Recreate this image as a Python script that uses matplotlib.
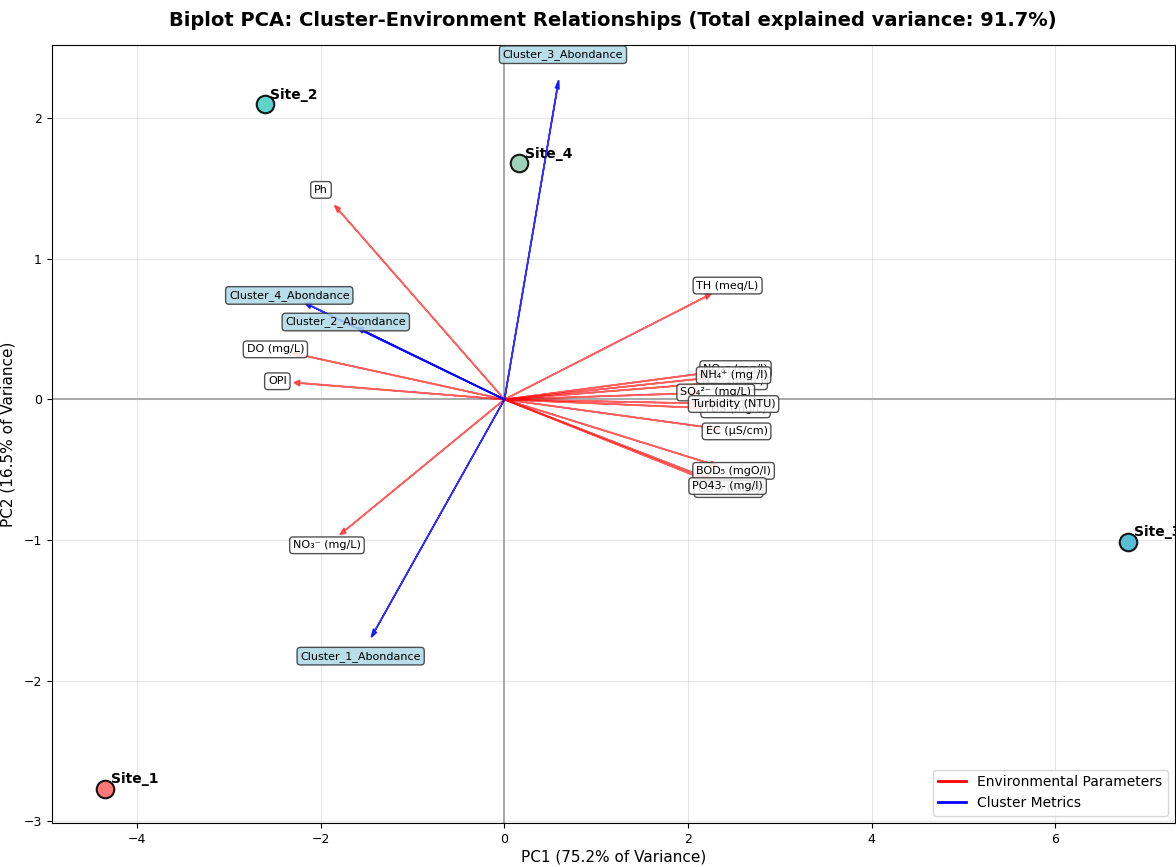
import numpy as np
import matplotlib
matplotlib.use('Agg')
import matplotlib.pyplot as plt
from matplotlib.lines import Line2D

# site scores (PC1, PC2)
sites = ['Site_1', 'Site_2', 'Site_3', 'Site_4']
site_pc1 = [-4.35, -2.61, 6.79, 0.16]
site_pc2 = [-2.77, 2.10, -1.01, 1.68]
site_colors = ['#FF6B6B', '#4ECDC4', '#45B7D1', '#96CEB4']

# environmental loadings (scaled)
env_names = ['Ph', 'TH (meq/L)', 'NO₂⁻ (mg/l)', 'Cl⁻ (mg/L)', 'SO₄²⁻ (mg/L)',
             'NH₄⁺ (mg /l)', 'TDS (mg/L)', 'Turbidity (NTU)', 'EC (µS/cm)',
             'COD (mg/l)', 'BOD₅ (mgO/l)', 'PO43- (mg/l)', 'DO (mg/L)', 'OPI',
             'NO₃⁻ (mg/L)']
env_pc1 = [-1.85, 2.25, 2.33, 2.33, 2.13, 2.31, 2.33, 2.31, 2.34,
           2.26, 2.31, 2.25, -2.31, -2.29, -1.79]
env_pc2 = [1.38, 0.75, 0.20, 0.12, 0.046, 0.16, -0.065, -0.03, -0.21,
           -0.59, -0.47, -0.57, 0.33, 0.12, -0.96]

# cluster loadings (scaled)
clu_names = ['Cluster_1_Abondance', 'Cluster_2_Abondance',
             'Cluster_3_Abondance', 'Cluster_4_Abondance']
clu_pc1 = [-1.45, -1.60, 0.59, -2.17]
clu_pc2 = [-1.69, 0.51, 2.27, 0.685]

var_pc1 = 75.2
var_pc2 = 16.5

fig = plt.figure(figsize=(11.76, 8.67), dpi=100)
ax = fig.add_axes([0.044, 0.051, 0.955, 0.897])

ax.axhline(0, color='gray', linewidth=1.2, alpha=0.8, zorder=1)
ax.axvline(0, color='gray', linewidth=1.2, alpha=0.8, zorder=1)

# sites
for i, s in enumerate(sites):
    ax.scatter(site_pc1[i], site_pc2[i], s=160, c=site_colors[i],
               edgecolors='black', linewidths=1.5, alpha=0.9, zorder=5)
    ax.annotate(s, (site_pc1[i], site_pc2[i]), xytext=(4, 4),
                textcoords='offset points', fontsize=10, fontweight='bold',
                zorder=6)

# environmental arrows
for i, n in enumerate(env_names):
    ax.arrow(0, 0, env_pc1[i], env_pc2[i], color='red', alpha=0.6,
             head_width=0.04, head_length=0.06, linewidth=1.2,
             length_includes_head=True, zorder=3)
    ax.text(env_pc1[i] * 1.08, env_pc2[i] * 1.08, n, fontsize=8,
            ha='center', va='center', zorder=7,
            bbox=dict(boxstyle='round,pad=0.3', facecolor='white',
                      edgecolor='#333333', alpha=0.85))

# cluster arrows
for i, n in enumerate(clu_names):
    ax.arrow(0, 0, clu_pc1[i], clu_pc2[i], color='blue', alpha=0.8,
             head_width=0.04, head_length=0.06, linewidth=1.2,
             length_includes_head=True, zorder=4)
    ax.text(clu_pc1[i] * 1.08, clu_pc2[i] * 1.08, n, fontsize=8,
            ha='center', va='center', zorder=8,
            bbox=dict(boxstyle='round,pad=0.3', facecolor='lightblue',
                      edgecolor='#333333', alpha=0.85))

ax.set_xlim(-4.93, 7.3)
ax.set_ylim(-3.01, 2.52)
ax.set_xticks([-4, -2, 0, 2, 4, 6])
ax.set_yticks([-3, -2, -1, 0, 1, 2])
ax.tick_params(labelsize=9)
ax.grid(True, alpha=0.3)

ax.set_xlabel(f'PC1 ({var_pc1}% of Variance)', fontsize=11, labelpad=3)
ax.set_ylabel(f'PC2 ({var_pc2}% of Variance)', fontsize=11, labelpad=6)
ax.set_title(f'Biplot PCA: Cluster-Environment Relationships '
             f'(Total explained variance: {var_pc1 + var_pc2:.1f}%)',
             fontsize=14, fontweight='bold', pad=14)

handles = [Line2D([0], [0], color='red', lw=2),
           Line2D([0], [0], color='blue', lw=2)]
ax.legend(handles, ['Environmental Parameters', 'Cluster Metrics'],
          loc='lower right', fontsize=10)

fig.savefig('out.png', dpi=100)
